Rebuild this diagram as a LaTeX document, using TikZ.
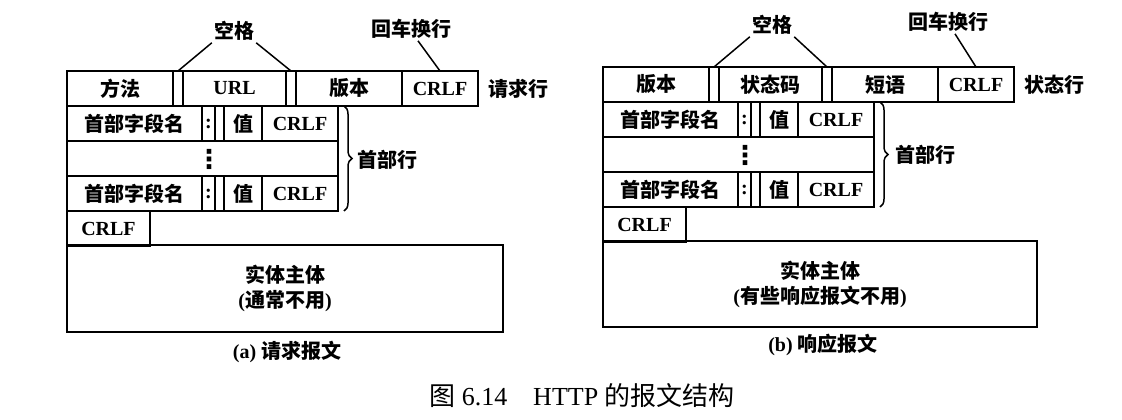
\documentclass[tikz,border=0pt]{standalone}
\usepackage{fontspec}
\setmainfont{Liberation Serif}
\newfontfamily\cjk{Noto Sans CJK SC}
\newfontfamily\sym{DejaVu Sans}
\usetikzlibrary{positioning, calc, decorations.pathreplacing}

\newcommand{\zh}[1]{{\cjk #1}}

\tikzset{
  cell/.style={draw, line width=1.7pt, anchor=north west, minimum height=35pt,
    inner sep=0pt, outer sep=0pt, font=\fontsize{20}{25}\selectfont\bfseries},
  tag/.style={font=\fontsize{20}{24}\selectfont\bfseries, inner sep=2pt},
  dots/.style={inner sep=0pt, font=\fontsize{26}{26}\selectfont\sym\bfseries},
  lead/.style={line width=1.5pt},
}

\begin{document}
\begin{tikzpicture}[x=1pt, y=-1pt]
    \useasboundingbox (0,0) rectangle (1122,420);
    % (a) request message
    \begin{scope}[shift={(67,71)}]
    \node[cell, minimum width=106pt] (a1) at (0,0) {\zh{方法}};
    \node[cell, minimum width=10pt] (ag1) at (106,0) {};
    \node[cell, minimum width=103pt] (a2) at (116,0) {URL};
    \node[cell, minimum width=10pt] (ag2) at (219,0) {};
    \node[cell, minimum width=106pt] (a3) at (229,0) {\zh{版本}};
    \node[cell, minimum width=76pt] (a4) at (335,0) {CRLF};
    \node[tag, right=8pt of a4] (arl) {\zh{请求行}};
    \node[tag] (asp) at (167,-40) {\zh{空格}};
    \node[tag] (aret) at (344,-42) {\zh{回车换行}};
    \draw[lead] (asp.south west) -- (ag1.north);
    \draw[lead] (asp.south east) -- (ag2.north);
    \draw[lead] ([xshift=7pt]aret.south) -- (a4.north);
    % header lines
    \node[cell, minimum width=135pt] (ah1) at (0,35) {\zh{首部字段名}};
    \node[cell, minimum width=13pt] (ac1) at (135,35) {:};
    \node[cell, minimum width=9pt] (ag3) at (148,35) {};
    \node[cell, minimum width=38pt] (av1) at (157,35) {\zh{值}};
    \node[cell, minimum width=76pt] (ar1) at (195,35) {CRLF};
    \node[cell, minimum width=271pt] (ad) at (0,70) {};
    \node[dots] (adots) at (142,88) {⋮};
    \node[cell, minimum width=135pt] (ah2) at (0,105) {\zh{首部字段名}};
    \node[cell, minimum width=13pt] (ac2) at (135,105) {:};
    \node[cell, minimum width=9pt] (ag4) at (148,105) {};
    \node[cell, minimum width=38pt] (av2) at (157,105) {\zh{值}};
    \node[cell, minimum width=76pt] (ar2) at (195,105) {CRLF};
    \draw[lead, decorate, decoration={brace, amplitude=8pt}]
      ([xshift=6pt]ar1.north east) -- ([xshift=6pt]ar2.south east);
    \node[tag, anchor=west] (ahd) at (288,89) {\zh{首部行}};
    \node[cell, minimum width=83pt] (acr) at (0,140) {CRLF};
    \node[cell, minimum width=436pt, minimum height=87pt, align=center] (ab) at (0,174)
      {\zh{实体主体}\\(\zh{通常不用})};
    \node[tag] (acap) at (220,281) {(a) \zh{请求报文}};
    \end{scope}
    % (b) response message
    \begin{scope}[shift={(603,67)}]
    \node[cell, minimum width=106pt] (b1) at (0,0) {\zh{版本}};
    \node[cell, minimum width=10pt] (bg1) at (106,0) {};
    \node[cell, minimum width=103pt] (b2) at (116,0) {\zh{状态码}};
    \node[cell, minimum width=10pt] (bg2) at (219,0) {};
    \node[cell, minimum width=106pt] (b3) at (229,0) {\zh{短语}};
    \node[cell, minimum width=76pt] (b4) at (335,0) {CRLF};
    \node[tag, right=8pt of b4] (bsl) {\zh{状态行}};
    \node[tag] (bsp) at (169,-42) {\zh{空格}};
    \node[tag] (bret) at (345,-45) {\zh{回车换行}};
    \draw[lead] (bsp.south west) -- (bg1.north);
    \draw[lead] (bsp.south east) -- (bg2.north);
    \draw[lead] ([xshift=7pt]bret.south) -- (b4.north);
    % header lines
    \node[cell, minimum width=135pt] (bh1) at (0,35) {\zh{首部字段名}};
    \node[cell, minimum width=13pt] (bc1) at (135,35) {:};
    \node[cell, minimum width=9pt] (bg3) at (148,35) {};
    \node[cell, minimum width=38pt] (bv1) at (157,35) {\zh{值}};
    \node[cell, minimum width=76pt] (br1) at (195,35) {CRLF};
    \node[cell, minimum width=271pt] (bd) at (0,70) {};
    \node[dots] (bdots) at (142,88) {⋮};
    \node[cell, minimum width=135pt] (bh2) at (0,105) {\zh{首部字段名}};
    \node[cell, minimum width=13pt] (bc2) at (135,105) {:};
    \node[cell, minimum width=9pt] (bg4) at (148,105) {};
    \node[cell, minimum width=38pt] (bv2) at (157,105) {\zh{值}};
    \node[cell, minimum width=76pt] (br2) at (195,105) {CRLF};
    \draw[lead, decorate, decoration={brace, amplitude=8pt}]
      ([xshift=6pt]br1.north east) -- ([xshift=6pt]br2.south east);
    \node[tag, anchor=west] (bhd) at (290,88) {\zh{首部行}};
    \node[cell, minimum width=83pt] (bcr) at (0,140) {CRLF};
    \node[cell, minimum width=434pt, minimum height=86pt, align=center] (bb) at (0,174)
      {\zh{实体主体}\\(\zh{有些响应报文不用})};
    \node[tag] (bcap) at (220,278) {(b) \zh{响应报文}};
    \end{scope}
    \node[font=\fontsize{26}{30}\selectfont] (title) at (582,396)
      {\zh{图} 6.14\quad HTTP \zh{的报文结构}};
\end{tikzpicture}
\end{document}
